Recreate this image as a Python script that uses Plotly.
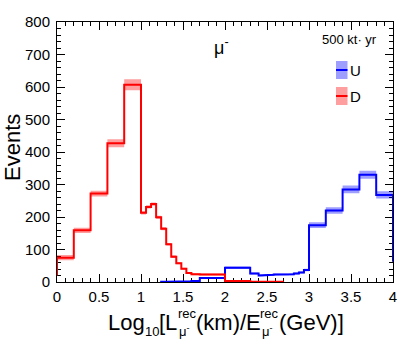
import plotly.graph_objects as go

# ---------------- data ----------------
bin_edges = [0.0, 0.2, 0.4, 0.6, 0.8,
             1.0, 1.06, 1.12, 1.18, 1.24, 1.30, 1.36, 1.42, 1.48, 1.54, 1.60,
             1.70, 2.0, 2.3, 2.4,
             2.46, 2.52, 2.58, 2.64, 2.70, 2.76, 2.82, 2.88, 2.94, 3.0,
             3.2, 3.4, 3.6, 3.8, 4.0]

down_D = [75, 159, 272, 427, 607,
          213, 231, 240, 199, 164, 116, 78, 58, 41, 28,
          24, 23, 3, 1,
          0.5, 0.5, 0.5, 0.5, 0.5, 0, 0, 0, 0, 0,
          0, 0, 0, 0, 0]
down_D_err = [8, 8, 9, 12, 17,
              5, 5, 5, 5, 5, 4, 4, 3, 3, 3,
              3, 3, 1, 1,
              1, 1, 1, 1, 1, 0, 0, 0, 0, 0,
              0, 0, 0, 0, 0]

up_U = [0, 0, 0, 0, 0,
        0, 0, 0, 0, 0.5, 0.5, 0.5, 0.5, 1, 2,
        3, 12, 44, 26,
        20, 21, 22, 23, 23, 23, 24, 26, 29, 37,
        175, 220, 285, 330, 268]
up_U_err = [0, 0, 0, 0, 0,
            0, 0, 0, 0, 1, 1, 1, 1, 1, 1,
            1, 3, 4, 3,
            3, 3, 3, 3, 3, 3, 3, 3, 3, 4,
            9, 10, 12, 12, 11]

down_start_level = 20   # left edge of D histogram
up_end_level = 62       # right edge of U histogram

x_ticks = [0, 0.5, 1, 1.5, 2, 2.5, 3, 3.5, 4]
x_tick_labels = ["0", "0.5", "1", "1.5", "2", "2.5", "3", "3.5", "4"]
y_ticks = [0, 100, 200, 300, 400, 500, 600, 700, 800]
y_tick_labels = [str(v) for v in y_ticks]

RED = "#ff0000"
BLUE = "#0000ff"
RED_BAND = "rgba(255,0,0,0.38)"
BLUE_BAND = "rgba(0,0,255,0.38)"
FONT = "Liberation Sans, Arial, Helvetica, sans-serif"


def nonzero_range(vals):
    idx = [i for i, v in enumerate(vals) if v > 0]
    return idx[0], idx[-1]


def step_path(edges, vals, lo, hi, start_level, end_level):
    xs = [edges[lo]]
    ys = [start_level]
    for i in range(lo, hi + 1):
        xs += [edges[i], edges[i + 1]]
        ys += [vals[i], vals[i]]
    xs.append(edges[hi + 1])
    ys.append(end_level)
    return xs, ys


def band_path(edges, vals, errs):
    xs, ys = [], []
    for i, (v, e) in enumerate(zip(vals, errs)):
        if e <= 0:
            continue
        x0, x1 = edges[i], edges[i + 1]
        xs += [x0, x1, x1, x0, x0, None]
        ys += [v - e, v - e, v + e, v + e, v - e, None]
    return xs, ys


fig = go.Figure()

for vals, errs, col in [(up_U, up_U_err, BLUE_BAND), (down_D, down_D_err, RED_BAND)]:
    bx, by = band_path(bin_edges, vals, errs)
    fig.add_trace(go.Scatter(x=bx, y=by, mode="lines", fill="toself", fillcolor=col,
                             line=dict(width=0), hoverinfo="skip", showlegend=False,
                             connectgaps=False))

lo, hi = nonzero_range(up_U)
ux, uy = step_path(bin_edges, up_U, lo, hi, 0, up_end_level)
fig.add_trace(go.Scatter(x=ux, y=uy, mode="lines", line=dict(color=BLUE, width=2),
                         showlegend=False, cliponaxis=False, name="U"))

lo, hi = nonzero_range(down_D)
dx, dy = step_path(bin_edges, down_D, lo, hi, down_start_level, down_D[hi])
fig.add_trace(go.Scatter(x=dx, y=dy, mode="lines", line=dict(color=RED, width=2),
                         showlegend=False, cliponaxis=False, name="D"))

# ---------------- layout ----------------
W, H = 407, 344
PL, PR, PT, PB = 57, 393, 22, 282          # plot area in pixels
PW, PH = PR - PL, PB - PT


def xp(px):
    return (px - PL) / PW


def yp(py):
    return (PB - py) / PH


axis_common = dict(ticks="inside", ticklen=8, tickwidth=1, tickcolor="black",
                   showline=True, linecolor="black", linewidth=1, mirror="ticks",
                   showgrid=False, zeroline=False, layer="below traces",
                   tickfont=dict(family=FONT, size=15, color="black"))

fig.update_layout(
    width=W, height=H,
    margin=dict(l=PL, r=W - PR, t=PT, b=H - PB, pad=0, autoexpand=False),
    paper_bgcolor="white", plot_bgcolor="white",
    showlegend=False,
    xaxis=dict(range=[0, 4], tickmode="array", tickvals=x_ticks, ticktext=x_tick_labels,
               minor=dict(dtick=0.1, tick0=0, ticks="inside", ticklen=4, tickcolor="black",
                          showgrid=False),
               ticklabelstandoff=1,
               **axis_common),
    yaxis=dict(range=[0, 800], tickmode="array", tickvals=y_ticks, ticktext=y_tick_labels,
               minor=dict(dtick=20, tick0=0, ticks="inside", ticklen=4, tickcolor="black",
                          showgrid=False),
               ticklabelstandoff=3,
               **axis_common),
)

ann = []


def text(s, px, py, size, xanchor="left", yanchor="middle", angle=0):
    ann.append(dict(text=s, x=xp(px), y=yp(py), xref="paper", yref="paper",
                    xanchor=xanchor, yanchor=yanchor, showarrow=False, textangle=angle,
                    font=dict(family=FONT, size=size, color="black"), borderpad=0))


# y title
text("Events", 12, 148, 22, xanchor="center", angle=-90)

# x title built from pieces (stacked super/subscripts)
text("Log", 107, 322, 22)
text("10", 143.7, 331, 13)
text("[L", 158.2, 322, 22)
text("rec", 176.5, 313, 13)
text("μ<sup>-</sup>", 178, 331, 13)
text("(km)/E", 194.6, 322, 22)
text("rec", 259.4, 313, 13)
text("μ<sup>-</sup>", 261, 331, 13)
text("(GeV)]", 277.5, 322, 22)

# in-plot labels
text("μ<sup>-</sup>", 221, 46, 18, xanchor="center")
text("500 kt· yr", 349.5, 40, 13, xanchor="center")
text("U", 349, 70.5, 15)
text("D", 349, 96, 15)

fig.update_layout(annotations=ann)

# legend boxes
shapes = []
for (y0, y1, band, col) in [(61, 79, BLUE_BAND, BLUE), (87, 105, RED_BAND, RED)]:
    shapes.append(dict(type="rect", xref="paper", yref="paper",
                       x0=xp(336), x1=xp(347.5), y0=yp(y1), y1=yp(y0),
                       fillcolor=band, line=dict(width=0)))
    ym = (y0 + y1) / 2
    shapes.append(dict(type="line", xref="paper", yref="paper",
                       x0=xp(336), x1=xp(347.5), y0=yp(ym), y1=yp(ym),
                       line=dict(color=col, width=2)))
fig.update_layout(shapes=shapes)

fig.write_html("out.html",
               config={"displayModeBar": False, "staticPlot": True},
               post_script="document.body.style.margin='0px';"
                           "document.body.style.overflow='hidden';")
